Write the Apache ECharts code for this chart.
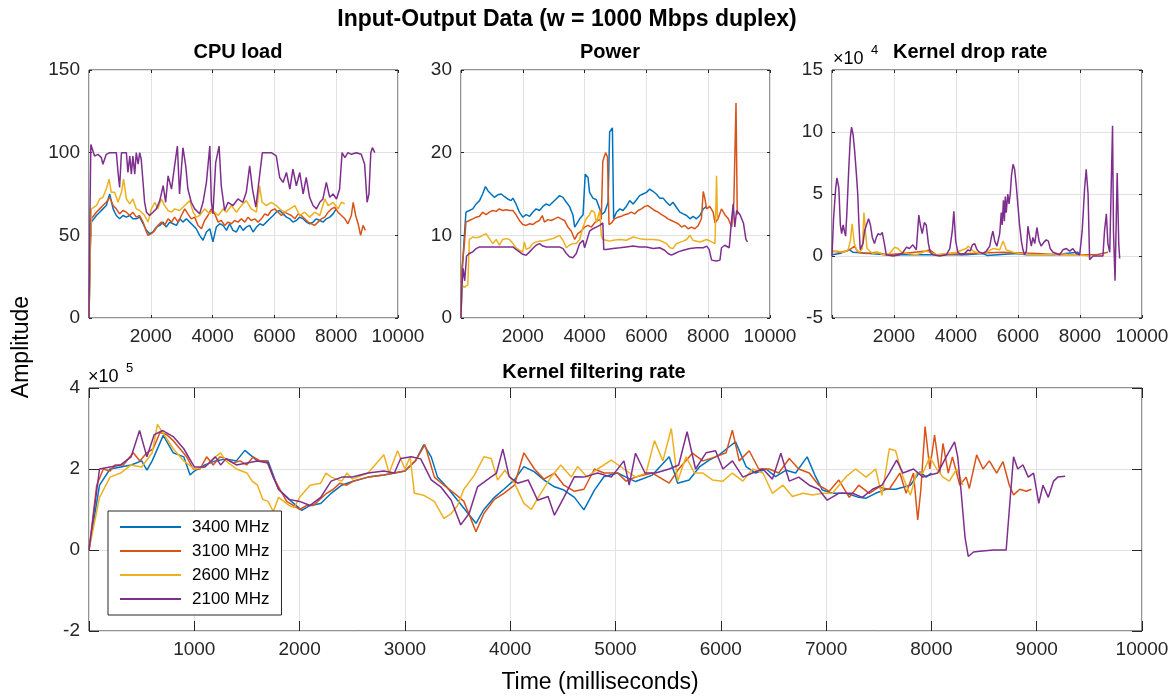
<!DOCTYPE html>
<html>
<head>
<meta charset="utf-8">
<script src="https://cdn.jsdelivr.net/npm/echarts@6/dist/echarts.min.js"></script>
<style>html,body{margin:0;padding:0;background:#fff}#c{width:1174px;height:697px}</style>
</head>
<body>
<div id="c"></div>
<script>
// ---------- DATA ----------
const seriesNames = ['3400 MHz', '3100 MHz', '2600 MHz', '2100 MHz'];
const colors = ['#0072BD', '#D95319', '#EDB120', '#7E2F8E'];

// CPU load [time ms, %]
const cpu3400 = [[0,0],[40,45],[75,58],[240,62],[345,64],[450,66],[560,68],[670,75],[780,66],[885,62],[990,60],[1100,62],[1210,61],[1320,62],[1420,60],[1530,60],[1640,61],[1750,57],[1860,53],[1960,51],[2070,52],[2180,55],[2290,56],[2400,58],[2500,55],[2610,58],[2720,57],[2830,56],[2940,60],[3040,58],[3150,60],[3260,58],[3370,56],[3470,54],[3580,50],[3690,47],[3800,52],[3910,54],[4010,46],[4120,55],[4230,57],[4340,56],[4450,53],[4550,57],[4660,53],[4770,52],[4880,56],[4990,53],[5090,55],[5200,56],[5310,52],[5420,55],[5530,57],[5630,56],[5740,58],[5850,60],[5960,62],[6060,64],[6170,65],[6280,63],[6390,61],[6500,60],[6600,58],[6710,59],[6820,61],[6930,60],[7040,58],[7140,57],[7250,58],[7360,60],[7470,59],[7580,58],[7680,60],[7790,61],[7900,63],[8000,66]];
const cpu3100 = [[0,0],[40,40],[75,60],[240,64],[345,66],[450,68],[560,70],[670,73],[780,68],[885,66],[990,63],[1100,65],[1210,64],[1320,62],[1420,64],[1530,61],[1640,62],[1750,58],[1860,52],[1910,50],[2020,51],[2130,53],[2230,56],[2340,58],[2450,56],[2560,60],[2670,58],[2770,61],[2880,58],[2990,62],[3100,66],[3200,63],[3310,60],[3420,61],[3530,56],[3640,54],[3740,59],[3850,62],[3960,66],[4070,63],[4180,58],[4280,59],[4390,56],[4500,58],[4610,57],[4710,59],[4820,58],[4930,60],[5040,58],[5150,61],[5250,59],[5360,60],[5470,58],[5580,60],[5690,63],[5790,62],[5900,65],[6010,66],[6120,64],[6230,62],[6330,64],[6440,63],[6550,62],[6660,60],[6770,63],[6870,62],[6980,60],[7090,58],[7200,57],[7300,56],[7410,58],[7520,60],[7630,61],[7740,64],[7850,66],[7950,67],[8060,64],[8170,62],[8280,60],[8380,57],[8490,62],[8550,70],[8630,62],[8710,57],[8790,50],[8870,56],[8940,53]];
const cpu2600 = [[0,0],[40,40],[75,66],[240,68],[345,72],[450,73],[560,78],[650,84],[720,76],[830,76],[940,70],[1050,76],[1120,84],[1210,72],[1320,69],[1420,72],[1530,66],[1640,65],[1800,62],[1910,58],[2020,66],[2130,70],[2230,66],[2340,72],[2450,68],[2560,65],[2670,64],[2770,66],[2930,65],[3100,68],[3260,71],[3370,64],[3470,61],[3580,62],[3740,66],[3910,63],[4010,65],[4180,62],[4340,66],[4450,64],[4610,68],[4770,64],[4930,68],[5090,71],[5250,66],[5420,64],[5520,80],[5600,70],[5740,68],[5900,70],[6060,68],[6170,66],[6330,64],[6500,66],[6660,68],[6820,62],[6980,64],[7140,61],[7300,64],[7470,62],[7630,72],[7740,68],[7900,70],[8060,66],[8170,70],[8280,69]];
const cpu2100 = [[0,0],[30,60],[60,105],[180,98],[290,99],[400,97],[450,93],[560,99],[670,100],[780,100],[885,100],[940,88],[990,79],[1050,100],[1100,100],[1210,100],[1260,88],[1320,98],[1370,87],[1420,98],[1480,87],[1530,100],[1590,93],[1640,100],[1690,96],[1800,70],[1860,64],[1960,62],[2070,64],[2180,66],[2290,71],[2400,80],[2480,70],[2560,86],[2670,78],[2770,92],[2860,104],[2930,75],[3040,103],[3130,92],[3200,78],[3310,70],[3420,66],[3580,63],[3690,70],[3800,82],[3910,104],[3960,70],[4010,63],[4100,94],[4210,104],[4280,80],[4390,65],[4500,70],[4660,68],[4820,72],[4980,70],[5090,76],[5200,92],[5290,78],[5400,67],[5520,86],[5610,100],[5740,100],[5900,100],[6060,98],[6170,85],[6280,82],[6390,88],[6500,78],[6600,90],[6710,80],[6820,88],[6930,75],[7030,85],[7140,73],[7250,68],[7360,66],[7470,70],[7570,72],[7680,82],[7790,73],[7900,75],[8010,72],[8110,78],[8190,100],[8280,97],[8380,100],[8490,99],[8650,100],[8810,99],[8920,93],[9000,70],[9060,75],[9120,100],[9170,103],[9250,100]];

// Power [time ms, W]
const pw3400 = [[0,0],[30,5],[110,10],[160,12.8],[270,13.0],[380,13.2],[490,13.8],[600,14.2],[700,15.0],[790,15.9],[870,15.4],[970,15.0],[1080,14.6],[1190,14.9],[1300,15.0],[1400,14.7],[1510,14.4],[1620,14.2],[1680,14.5],[1780,13.8],[1890,12.8],[2000,12.2],[2110,12.5],[2220,12.3],[2320,12.8],[2430,13.2],[2540,13.0],[2650,13.5],[2760,13.8],[2860,13.6],[2970,14.0],[3080,14.4],[3190,14.8],[3300,14.6],[3410,14.0],[3510,13.5],[3620,12.5],[3680,11.0],[3730,10.8],[3840,12.0],[3950,12.5],[4020,17.4],[4110,17.0],[4160,15.2],[4270,14.5],[4380,14.3],[4490,13.2],[4540,12.5],[4650,12.8],[4760,14.0],[4810,22.5],[4900,23.0],[4940,12.0],[5030,12.8],[5140,13.2],[5240,13.0],[5350,13.5],[5460,14.2],[5570,13.8],[5680,14.3],[5780,14.8],[5890,15.0],[6000,15.2],[6110,15.6],[6220,15.3],[6320,15.0],[6430,14.5],[6540,14.5],[6650,14.0],[6760,13.6],[6860,14.0],[6970,13.4],[7080,12.8],[7190,12.6],[7300,12.4],[7410,12.0],[7510,12.3],[7620,12.0],[7730,12.4],[7840,13.2],[7950,13.5]];
const pw3100 = [[0,0],[30,6],[110,9],[160,11.6],[270,11.8],[380,12.0],[490,12.2],[600,12.3],[700,12.8],[810,12.5],[920,12.8],[1030,13.0],[1140,12.9],[1240,13.2],[1350,13.0],[1460,13.1],[1570,13.0],[1680,13.0],[1780,12.5],[1890,11.8],[2000,11.3],[2110,11.2],[2220,11.4],[2320,11.3],[2430,11.6],[2540,11.8],[2630,12.4],[2700,11.6],[2810,11.9],[2920,11.8],[3030,12.0],[3140,12.2],[3240,12.0],[3350,11.8],[3460,11.0],[3570,10.5],[3680,9.5],[3780,10.2],[3890,10.5],[4000,11.0],[4110,11.2],[4220,11.0],[4320,11.5],[4430,11.8],[4540,12.0],[4590,19.0],[4680,20.0],[4740,19.5],[4790,11.3],[4870,11.5],[4970,12.0],[5080,12.2],[5190,12.3],[5300,12.5],[5410,12.6],[5510,12.8],[5620,12.6],[5730,13.0],[5840,13.2],[5950,13.5],[6050,13.6],[6160,13.3],[6270,13.0],[6380,12.8],[6490,12.5],[6590,12.3],[6700,12.0],[6810,11.8],[6920,11.6],[7030,11.4],[7140,11.0],[7240,11.2],[7350,10.8],[7460,11.0],[7570,10.8],[7680,11.2],[7780,12.0],[7840,15.3],[7890,14.5],[7950,13.2],[8050,13.5],[8160,12.8],[8220,11.5],[8320,12.0],[8430,13.2],[8540,12.5],[8650,12.0],[8760,11.0],[8830,14.0],[8900,26.0],[8940,12.5]];
const pw2600 = [[0,0],[30,4],[110,3.7],[220,4],[270,9.5],[380,9.8],[490,9.7],[600,9.8],[700,10.0],[810,10.2],[920,9.6],[1030,9.0],[1140,9.5],[1240,8.8],[1350,9.5],[1460,9.6],[1570,9.5],[1680,9.0],[1780,8.5],[1890,8.2],[2000,8.0],[2050,9.2],[2110,8.3],[2220,8.5],[2320,9.0],[2430,9.2],[2540,9.3],[2650,9.3],[2760,9.4],[2860,9.5],[2970,9.6],[3080,9.8],[3190,10.0],[3300,9.4],[3410,8.5],[3510,8.8],[3620,9.0],[3730,9.0],[3840,9.5],[3950,11.0],[4050,12.0],[4160,12.5],[4220,13.0],[4320,12.8],[4380,11.5],[4490,13.0],[4540,10.0],[4590,9.5],[4700,9.4],[4810,9.3],[4920,9.4],[5140,9.5],[5350,9.4],[5570,9.8],[5780,9.6],[6000,9.5],[6220,9.5],[6430,9.4],[6650,9.0],[6760,8.5],[6860,8.4],[6970,9.0],[7190,9.3],[7300,9.5],[7410,10.0],[7510,9.4],[7730,9.2],[7950,9.5],[8110,9.2],[8220,9.0],[8270,17.2],[8300,12.0]];
const pw2100 = [[0,0],[30,4],[70,6],[120,4.5],[180,7.5],[270,7.8],[380,8.0],[490,8.4],[600,8.6],[810,8.6],[1030,8.6],[1240,8.6],[1460,8.6],[1680,8.6],[1780,8.3],[1890,8.0],[2000,7.7],[2110,7.6],[2220,8.0],[2320,8.4],[2430,8.8],[2540,9.0],[2650,8.7],[2760,8.6],[2970,8.6],[3190,8.6],[3300,8.4],[3410,7.8],[3510,7.4],[3620,7.3],[3730,7.8],[3840,9.0],[3950,9.4],[4000,8.5],[4050,8.5],[4160,10.5],[4270,10.8],[4380,11.0],[4490,11.2],[4590,11.5],[4620,8.3],[4700,8.3],[4920,8.4],[5140,8.5],[5350,8.6],[5570,8.7],[5780,8.6],[6000,8.6],[6220,8.4],[6430,8.5],[6590,8.2],[6700,7.8],[6810,7.6],[6920,7.8],[7030,8.0],[7190,8.2],[7410,8.4],[7620,8.5],[7840,8.5],[7950,8.7],[8030,8.3],[8110,7.0],[8270,6.9],[8380,7.0],[8430,8.5],[8540,8.8],[8590,8.7],[8680,8.5],[8760,12.0],[8810,13.8],[8860,11.0],[8920,13.0],[9030,12.5],[9140,11.5],[9220,9.5],[9270,9.2]];

// Kernel drop rate [time ms, x10^4]
const dr3400 = [[0,0.1],[250,0.2],[570,0.5],[680,0.3],[1220,0.2],[1750,0.1],[2830,0.1],[4330,0.1],[4870,0.2],[5000,0.05],[5950,0.2],[6270,0.1],[7130,0.1],[7930,0.3],[8000,0.1]];
const dr3100 = [[0,0.4],[250,0.3],[460,0.4],[620,0.6],[730,0.8],[840,0.3],[1110,0.2],[1430,0.3],[1750,0.1],[2290,0.2],[3040,0.4],[3150,0.5],[3370,0.1],[4440,0.2],[5520,0.3],[6590,0.2],[7340,0.1],[7990,0.1],[8530,0.1],[8900,0.3]];
const dr2600 = [[0,0.3],[140,0.4],[360,0.3],[520,0.5],[590,1.2],[650,2.6],[680,2.7],[720,1.0],[790,0.5],[890,0.3],[980,0.6],[1030,3.5],[1080,2.0],[1130,0.6],[1220,0.4],[1320,0.2],[1480,0.3],[1650,0.1],[1860,0.2],[2020,0.7],[2130,0.6],[2240,0.3],[2450,0.2],[2720,0.1],[3040,0.4],[3370,0.1],[3690,0.2],[4010,0.3],[4330,0.6],[4390,0.8],[4550,0.4],[4760,0.2],[4980,0.3],[5190,0.6],[5410,0.5],[5520,1.2],[5550,1.0],[5620,0.5],[5840,0.3],[6050,0.2],[6480,0.1],[6910,0.1],[7340,0.2],[7670,0.1],[7990,0.1],[8300,0.0]];
const dr2100 = [[0,0],[50,3.0],[120,5.5],[160,6.3],[220,5.5],[270,2.5],[310,1.8],[360,2.5],[400,2.0],[440,1.6],[480,3.5],[540,7.0],[590,9.5],[630,10.4],[680,9.8],[730,8.5],[790,6.5],[830,5.0],[870,2.5],[910,0.5],[960,0.8],[1000,1.0],[1050,2.0],[1110,2.5],[1180,3.0],[1240,2.5],[1300,1.5],[1370,1.0],[1430,1.5],[1490,1.8],[1560,1.7],[1620,1.9],[1690,1.0],[1750,0.1],[1970,0],[2180,0.1],[2290,0.3],[2400,0.7],[2500,0.6],[2610,0.9],[2720,0.5],[2800,3.3],[2850,2.5],[2910,1.8],[2980,2.7],[3040,2.5],[3110,1.0],[3170,0.3],[3260,0.1],[3470,0.0],[3690,0.1],[3800,0.6],[3880,2.0],[3930,3.6],[3990,1.2],[4060,0.3],[4170,0.1],[4280,0.2],[4390,0.5],[4460,0.4],[4530,0.9],[4600,1.0],[4680,0.5],[4760,0.3],[4870,0.2],[4980,0.4],[5090,0.8],[5140,1.5],[5190,2.0],[5250,1.2],[5320,0.8],[5410,1.8],[5460,3.5],[5490,2.5],[5530,4.5],[5560,2.8],[5590,4.8],[5620,3.5],[5670,5.0],[5710,4.2],[5750,5.0],[5790,6.5],[5840,7.4],[5890,7.0],[5950,5.5],[6000,4.0],[6050,2.5],[6110,1.2],[6160,0.5],[6210,0.1],[6270,0.4],[6320,2.4],[6380,1.5],[6430,0.8],[6480,1.5],[6540,1.0],[6610,2.3],[6680,1.2],[6750,0.8],[6830,1.1],[6910,1.3],[6980,1.2],[7040,0.6],[7130,0.3],[7240,0.2],[7340,0.1],[7450,0.5],[7560,0.6],[7670,0.4],[7770,0.6],[7880,0.2],[7990,0.1],[8070,2.0],[8150,5.5],[8200,7.0],[8260,5.0],[8310,-0.3],[8360,-0.2],[8420,0.0],[8530,0.0],[8630,0.0],[8740,0.0],[8790,2.0],[8850,3.4],[8900,1.0],[8960,0.3],[9010,6.0],[9050,10.5],[9080,2.0],[9130,-2.0],[9170,3.0],[9200,6.7],[9250,1.0],[9280,-0.2]];

// Kernel filtering rate [time ms, x10^5]
const kf3400 = [[0,0],[100,1.6],[200,2.0],[300,2.05],[400,2.1],[500,2.2],[550,1.97],[600,2.2],[705,2.83],[800,2.4],[900,2.3],[960,1.85],[1000,1.95],[1100,2.1],[1200,2.2],[1300,2.25],[1400,2.2],[1480,2.46],[1600,2.2],[1700,2.2],[1800,1.5],[1900,1.25],[2020,0.98],[2100,1.1],[2200,1.15],[2300,1.4],[2400,1.6],[2500,1.69],[2650,1.8],[2800,1.85],[3000,1.95],[3100,2.2],[3180,2.6],[3250,2.3],[3310,1.8],[3400,1.55],[3500,1.23],[3600,0.9],[3675,0.66],[3750,1.0],[3850,1.3],[3940,1.5],[4040,1.73],[4130,2.06],[4230,1.93],[4320,1.73],[4420,1.56],[4510,1.48],[4610,1.3],[4700,0.99],[4800,1.48],[4890,1.81],[5020,1.9],[5100,1.8],[5190,1.69],[5350,1.85],[5510,2.3],[5590,1.65],[5700,1.73],[5800,2.06],[5890,2.22],[5985,2.35],[6080,2.55],[6140,2.67],[6240,2.06],[6330,1.9],[6430,2.0],[6520,1.81],[6620,1.97],[6710,1.9],[6820,2.3],[6900,1.81],[6965,1.48],[7060,1.4],[7190,1.4],[7310,1.3],[7380,1.28],[7470,1.4],[7570,1.5],[7660,1.5],[7800,1.6],[7890,1.93],[7950,1.8],[8000,1.9]];
const kf3100 = [[0,0],[73,1.6],[136,2.0],[200,1.95],[247,2.1],[326,2.1],[420,2.4],[484,2.2],[548,2.4],[610,2.5],[674,2.9],[737,2.85],[800,2.7],[864,2.5],[927,2.3],[990,2.0],[1054,2.0],[1117,2.3],[1180,2.1],[1244,2.3],[1307,2.25],[1370,2.15],[1434,2.2],[1497,2.1],[1560,2.3],[1624,2.2],[1687,2.2],[1750,1.8],[1813,1.5],[1877,1.2],[1940,1.1],[2003,1.0],[2067,1.1],[2130,1.1],[2193,1.25],[2257,1.4],[2320,1.5],[2383,1.65],[2447,1.6],[2510,1.7],[2650,1.8],[2800,1.85],[2900,1.9],[3000,1.95],[3100,2.2],[3190,2.6],[3280,1.8],[3370,1.6],[3470,1.4],[3560,1.2],[3675,0.45],[3750,0.9],[3850,1.25],[3940,1.4],[4040,1.6],[4130,2.4],[4230,2.0],[4320,1.75],[4420,1.9],[4510,1.6],[4610,1.45],[4700,1.5],[4800,2.0],[4890,1.9],[5020,1.9],[5100,1.7],[5190,1.8],[5350,1.9],[5510,1.65],[5600,2.0],[5730,2.39],[5830,2.2],[5950,2.3],[6050,2.4],[6110,2.96],[6175,2.2],[6270,2.45],[6360,2.0],[6460,2.0],[6550,1.9],[6650,2.26],[6740,2.0],[6840,1.9],[6930,1.6],[7030,1.45],[7120,1.73],[7220,1.3],[7310,1.6],[7410,1.4],[7500,1.55],[7600,1.5],[7700,1.9],[7760,1.4],[7830,1.9],[7870,0.74],[7900,1.5],[7940,3.05],[7985,2.0],[8030,2.84],[8080,1.9],[8110,2.63],[8160,1.9],[8200,2.3],[8270,1.6],[8330,1.8],[8360,1.52],[8430,2.35],[8490,2.0],[8550,2.2],[8620,1.9],[8680,2.18],[8740,1.6],[8780,1.36],[8840,1.5],[8900,1.45],[8950,1.5]];
const kf2600 = [[0,0],[100,1.3],[200,1.8],[300,1.9],[400,2.1],[500,2.05],[600,2.4],[650,3.1],[700,2.9],[800,2.5],[900,2.2],[1000,2.0],[1100,2.05],[1200,2.3],[1250,2.4],[1300,2.2],[1400,2.0],[1500,1.9],[1550,1.7],[1600,1.6],[1650,1.25],[1700,1.2],[1750,0.95],[1800,1.3],[1850,1.2],[1900,1.1],[1950,1.05],[2000,1.3],[2100,1.6],[2200,1.65],[2250,1.9],[2300,1.8],[2400,1.7],[2450,1.9],[2500,1.75],[2650,1.9],[2800,2.35],[2850,1.9],[2930,2.45],[3000,2.0],[3050,2.3],[3090,1.4],[3180,1.35],[3280,1.2],[3370,0.78],[3440,0.9],[3500,1.1],[3560,1.5],[3660,1.85],[3750,2.3],[3820,2.26],[3880,1.73],[3950,1.97],[4040,1.65],[4130,1.15],[4200,1.0],[4290,1.4],[4390,1.81],[4480,2.1],[4580,1.8],[4640,2.06],[4730,1.8],[4830,2.0],[4960,2.22],[5080,2.0],[5190,1.8],[5290,1.9],[5370,2.7],[5450,2.2],[5530,3.0],[5590,1.7],[5670,2.3],[5750,1.9],[5830,1.9],[5920,1.73],[6020,1.7],[6110,1.9],[6210,1.7],[6300,2.0],[6400,1.9],[6490,1.4],[6590,1.6],[6680,1.32],[6780,1.4],[6870,1.36],[6970,1.4],[7060,1.4],[7190,1.81],[7280,2.0],[7380,1.8],[7470,2.0],[7530,1.35],[7600,2.5],[7660,2.45],[7730,1.8],[7800,1.35],[7860,1.9],[7920,1.9],[7985,2.3],[8050,2.0],[8110,1.8],[8170,1.7],[8240,2.0],[8300,1.6]];
const kf2100 = [[0,0],[100,2.0],[200,2.05],[300,2.1],[400,2.3],[480,2.95],[550,2.3],[620,2.85],[700,2.95],[800,2.8],[900,2.5],[1000,2.05],[1100,2.05],[1200,2.3],[1250,2.1],[1300,2.25],[1400,2.1],[1500,2.15],[1600,2.2],[1700,2.15],[1750,1.8],[1800,1.5],[1900,1.25],[2000,1.2],[2100,1.1],[2200,1.3],[2300,1.7],[2400,1.8],[2500,1.8],[2650,1.9],[2800,1.95],[2900,1.9],[2960,2.26],[3060,2.3],[3150,2.25],[3250,1.73],[3340,1.56],[3440,1.23],[3530,0.62],[3610,0.9],[3690,1.56],[3780,1.73],[3870,1.9],[3930,2.49],[3990,1.81],[4070,1.65],[4170,1.73],[4260,1.23],[4360,1.32],[4420,0.86],[4510,1.3],[4610,1.81],[4700,1.8],[4830,1.9],[4960,1.8],[5080,2.2],[5130,1.6],[5190,2.39],[5280,1.9],[5380,1.9],[5510,2.0],[5600,2.1],[5680,2.92],[5760,2.0],[5860,2.4],[5950,2.45],[6020,2.0],[6110,2.2],[6210,1.8],[6300,1.9],[6400,2.0],[6490,1.75],[6570,2.39],[6650,1.7],[6740,1.8],[6840,1.6],[6930,1.5],[7010,1.23],[7120,1.4],[7250,1.4],[7345,1.3],[7440,1.5],[7530,1.6],[7600,1.9],[7670,2.22],[7730,1.9],[7830,2.0],[7920,1.8],[7985,1.85],[8060,1.9],[8140,2.3],[8220,2.67],[8250,2.3],[8280,1.5],[8320,0.3],[8350,-0.16],[8400,-0.05],[8460,-0.03],[8590,0],[8710,0],[8740,1.0],[8780,2.3],[8820,2.0],[8870,2.1],[8920,1.8],[8970,1.9],[9020,1.15],[9060,1.6],[9110,1.3],[9160,1.7],[9200,1.8],[9270,1.82]];

// ---------- CHART ----------
const FONT = 'Liberation Sans, Arial, Helvetica, sans-serif';
const AX = '#262626';
const chart = echarts.init(document.getElementById('c'), null, {renderer: 'canvas'});

const grids = [
  {left: 89, top: 70, width: 309, height: 248},
  {left: 461, top: 70, width: 309, height: 248},
  {left: 832, top: 70, width: 310, height: 248},
  {left: 89, top: 388, width: 1053, height: 243}
];
const yCfg = [
  {min: 0, max: 150, interval: 50},
  {min: 0, max: 30, interval: 10},
  {min: -5, max: 15, interval: 5},
  {min: -2, max: 4, interval: 2}
];
const tickLen = [3, 3, 3, 10];

const xAxes = [], yAxes = [];
grids.forEach((g, i) => {
  const xInt = i === 3 ? 1000 : 2000;
  ['bottom', 'top'].forEach((pos, k) => {
    xAxes.push({
      type: 'value', gridIndex: i, min: 0, max: 10000, interval: xInt, position: pos,
      axisLine: {show: false, onZero: false},
      axisTick: {show: true, inside: true, length: tickLen[i], lineStyle: {color: AX}},
      axisLabel: {show: k === 0, margin: 9, fontSize: 19, fontFamily: FONT, color: AX,
        formatter: v => (v === 0 ? '' : String(v))},
      splitLine: {show: k === 0, lineStyle: {color: '#e2e2e2', width: 1}}
    });
  });
  ['left', 'right'].forEach((pos, k) => {
    yAxes.push({
      type: 'value', gridIndex: i, min: yCfg[i].min, max: yCfg[i].max, interval: yCfg[i].interval, position: pos,
      axisLine: {show: false, onZero: false},
      axisTick: {show: true, inside: true, length: tickLen[i], lineStyle: {color: AX}},
      axisLabel: {show: k === 0, margin: 9, fontSize: 19, fontFamily: FONT, color: AX},
      splitLine: {show: k === 0, lineStyle: {color: '#e2e2e2', width: 1}}
    });
  });
});

const panels = [
  [cpu3400, cpu3100, cpu2600, cpu2100],
  [pw3400, pw3100, pw2600, pw2100],
  [dr3400, dr3100, dr2600, dr2100],
  [kf3400, kf3100, kf2600, kf2100]
];
const series = [];
panels.forEach((arrs, gi) => {
  arrs.forEach((d, si) => {
    series.push({
      type: 'line', name: seriesNames[si], xAxisIndex: gi * 2, yAxisIndex: gi * 2,
      data: d, symbol: 'none', showSymbol: false, smooth: false,
      lineStyle: {color: colors[si], width: 1.5}, itemStyle: {color: colors[si]},
      animation: false, z: 3
    });
  });
});

function txt(x, y, text, size, weight, align, extra) {
  return Object.assign({
    type: 'text', x: x, y: y, z: 10,
    style: {text: text, fontSize: size, fontWeight: weight || 'normal', fontFamily: FONT,
      fill: '#000', textAlign: align || 'center', textVerticalAlign: 'middle'}
  }, extra || {});
}

chart.setOption({
  backgroundColor: '#fff',
  animation: false,
  grid: grids.map(g => Object.assign({show: true, borderColor: AX, borderWidth: 1, backgroundColor: 'transparent'}, g)),
  xAxis: xAxes,
  yAxis: yAxes,
  legend: {
    data: seriesNames.map((n, i) => ({name: n, icon: 'rect', itemStyle: {color: colors[i]}})),
    orient: 'vertical', left: 108, top: 511,
    padding: [4, 12, 4, 12], itemGap: 0, itemWidth: 61, itemHeight: 2,
    borderColor: AX, borderWidth: 1, backgroundColor: '#fff',
    textStyle: {fontSize: 17, fontFamily: FONT, color: '#000', lineHeight: 24, padding: [0, 0, 0, 6]},
    selectedMode: false
  },
  series: series,
  graphic: [
    txt(567, 20, 'Input-Output Data (w = 1000 Mbps duplex)', 23, 'bold'),
    txt(238, 52, 'CPU load', 20, 'bold'),
    txt(610, 52, 'Power', 20, 'bold'),
    txt(893, 52, 'Kernel drop rate', 20, 'bold', 'left'),
    txt(594, 372, 'Kernel filtering rate', 20, 'bold'),
    txt(833, 59, '\u00d710', 18, 'normal', 'left'),
    txt(871, 50, '4', 13, 'normal', 'left'),
    txt(88, 377, '\u00d710', 18, 'normal', 'left'),
    txt(126, 368, '5', 13, 'normal', 'left'),
    txt(600, 683, 'Time (milliseconds)', 23, 'normal'),
    txt(22, 347, 'Amplitude', 23, 'normal', 'center', {rotation: Math.PI / 2})
  ]
});
</script>
</body>
</html>
